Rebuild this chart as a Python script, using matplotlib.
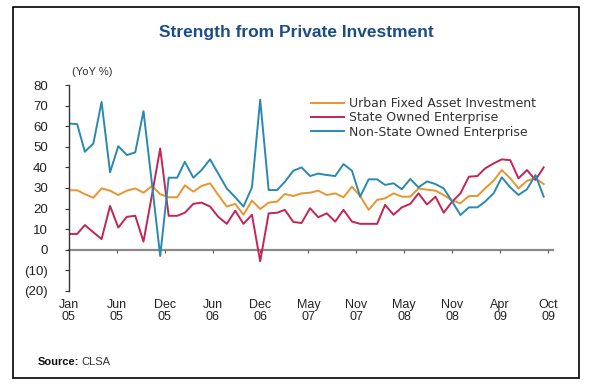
import numpy as np
import pandas as pd
import matplotlib
matplotlib.use("Agg")
import matplotlib.pyplot as plt
from matplotlib.patches import Rectangle

# monthly data, Jan 05 - Oct 09 (YoY %)
months = pd.date_range("2005-01-01", "2009-10-01", freq="MS")

urban_fai = [28.9, 28.9, 27.0, 25.3, 29.8, 28.7, 26.6, 28.7, 29.8, 27.7, 31.0, 27.0,
             25.5, 25.5, 31.3, 28.2, 31.0, 32.3, 26.6, 21.0, 22.3, 17.0, 23.9, 19.8,
             22.9, 23.4, 27.1, 26.1, 27.4, 27.7, 28.7, 26.6, 27.4, 25.5, 30.6, 26.1,
             19.4, 24.2, 25.0, 27.4, 25.8, 25.8, 29.8, 29.2, 28.7, 26.6, 23.9, 22.6,
             26.1, 26.1, 29.8, 33.5, 38.7, 34.7, 29.8, 33.5, 34.7, 31.9]

state_owned = [7.7, 7.7, 12.0, 8.5, 5.2, 21.3, 10.8, 16.0, 16.5, 4.0, 26.6, 49.2,
               16.5, 16.5, 18.0, 22.3, 22.9, 21.0, 16.0, 12.6, 19.0, 12.6, 17.0, -5.6,
               17.7, 18.0, 19.4, 13.5, 13.0, 20.2, 15.8, 17.7, 13.7, 19.4, 13.7, 12.6,
               12.6, 12.6, 21.8, 17.0, 20.6, 22.3, 27.4, 22.0, 25.8, 18.0, 23.4, 27.4,
               35.5, 35.8, 39.5, 41.9, 43.9, 43.5, 34.7, 38.7, 33.9, 40.0]

non_state = [61.3, 61.0, 47.6, 51.6, 71.8, 37.6, 50.3, 46.0, 47.3, 67.3, 32.0, -3.0,
             35.0, 35.0, 42.7, 35.0, 38.7, 43.9, 37.0, 29.8, 25.5, 21.0, 30.3, 72.9,
             29.0, 29.0, 33.0, 38.4, 40.0, 35.8, 37.0, 36.3, 35.8, 41.6, 38.4, 25.8,
             34.2, 34.2, 31.5, 32.3, 29.4, 34.4, 30.3, 33.2, 31.9, 29.8, 23.4, 16.9,
             20.6, 20.6, 23.4, 27.4, 35.2, 30.3, 26.6, 29.4, 36.3, 25.8]

series_names = ["Urban Fixed Asset Investment", "State Owned Enterprise",
                "Non-State Owned Enterprise"]
series_colors = ["#E8952F", "#C42456", "#2A89B0"]

tick_labels = ["Jan\n05", "Jun\n05", "Dec\n05", "Jun\n06", "Dec\n06", "May\n07",
               "Nov\n07", "May\n08", "Nov\n08", "Apr\n09", "Oct\n09"]
y_ticks = [-20, -10, 0, 10, 20, 30, 40, 50, 60, 70, 80]

narrow = ["Liberation Sans Narrow", "Liberation Sans", "DejaVu Sans"]

fig = plt.figure(figsize=(5.93, 3.88), dpi=100)
ax = fig.add_axes([68.7 / 593, 1 - 291 / 388, (553 - 68.7) / 593, (291 - 85) / 388])

for vals, name, col in zip([urban_fai, state_owned, non_state], series_names, series_colors):
    ax.plot(months, vals, color=col, lw=1.4, label=name)

start = pd.Timestamp("2005-01-01")
ticks = [start + pd.Timedelta(days=175 * k) for k in range(len(tick_labels))]
ax.set_xlim(start, start + pd.Timedelta(days=1768))
ax.set_ylim(-20, 80)

# x axis sits on the zero line
for s in ["top", "right"]:
    ax.spines[s].set_visible(False)
ax.spines["bottom"].set_position(("data", 0))
ax.spines["bottom"].set_color("#8a8a8a")
ax.spines["bottom"].set_linewidth(1.6)
ax.spines["bottom"].set_zorder(0)
ax.spines["left"].set_color("#333333")
ax.spines["left"].set_linewidth(1.0)

ax.set_xticks(ticks)
ax.set_xticklabels(tick_labels, family=narrow, fontsize=9, color="#222222", linespacing=0.95)
ax.tick_params(axis="x", direction="out", length=2.5, color="#555555", pad=33)
ax.set_yticks(y_ticks)
ax.set_yticklabels([f"({-v})" if v < 0 else str(v) for v in y_ticks],
                   family=narrow, fontsize=9.5, color="#222222")
ax.tick_params(axis="y", direction="out", length=3, color="#333333", pad=12)

fig.text(72 / 593, 1 - 72 / 388, "(YoY %)", family=narrow, fontsize=8, color="#333333",
         va="center", ha="left")

fig.text(0.5, 1 - 32 / 388, "Strength from Private Investment", family=narrow,
         fontsize=12.5, fontweight="bold", color="#1B4D87", ha="center", va="center")

leg = fig.legend(loc="upper left", bbox_to_anchor=(305 / 593, 1 - 91 / 388), frameon=False,
                 handlelength=2.6, handletextpad=0.4, labelspacing=0.1, borderpad=0,
                 prop={"family": "DejaVu Sans", "size": 9})
for t in leg.get_texts():
    t.set_color("#333333")

fig.text(38 / 593, 1 - 362 / 388, "Source:", family=narrow, fontsize=8, fontweight="bold",
         color="#111111", va="center")
fig.text(81 / 593, 1 - 362 / 388, "CLSA", family=narrow, fontsize=8, color="#333333",
         va="center")

fig.patches.append(Rectangle((13 / 593, 1 - 378 / 388), (579 - 13) / 593, (378 - 7) / 388,
                             transform=fig.transFigure, fill=False, ec="black", lw=1.2))

fig.savefig("out.png", dpi=100)
